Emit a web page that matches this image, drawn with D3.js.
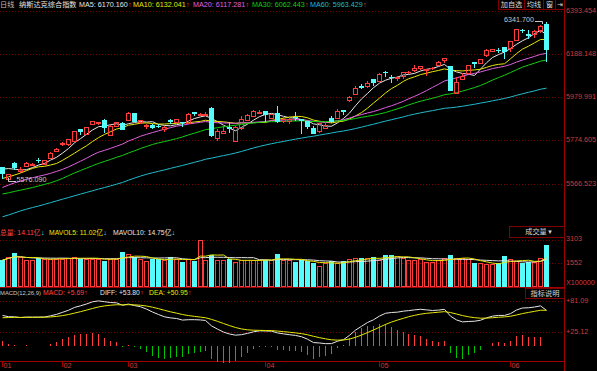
<!DOCTYPE html>
<html>
<head>
<meta charset="utf-8">
<script src="https://cdn.jsdelivr.net/npm/d3@7"></script>
<style>
html, body { margin: 0; padding: 0; background: #000; }
svg { display: block; font-family: "Liberation Sans", "Noto Sans CJK SC", sans-serif; }
</style>
</head>
<body>
<script>
// NASDAQ composite daily, 2017-01-30 .. 2017-06-09
var opens = [5646,5591,5668,5630,5652,5658,5681,5664,5691,5726,5757,5758,5772,5829,5805,5853,5857,5873,5802,5843,5858,
  5874,5904,5863,5842,5846,5845,5830,5872,5863,5860,5857,5911,5894,5897,5929,5784,5811,5840,5772,5833,5871,5893,5905,
  5913,5883,5904,5868,5865,5884,5875,5866,5834,5818,5835,5881,5880,5919,5967,5996,6032,6036,6068,
  6060,6100,6078,6072,6080,6101,6112,6118,6110,6118,6133,6160,6128,6001,6067,6094,6149,6142,6180,6202,6206,6220,
  6214,6256,6302,6280,6282,6300,6331];
var highs = [5650,5616,5670,5648,5670,5669,5690,5683,5719,5738,5766,5783,5821,5830,5839,5867,5864,5877,5846,5862,5860,
  5911,5905,5873,5852,5853,5855,5841,5876,5877,5864,5905,5912,5907,5910,5932,5827,5848,5864,5844,5889,5900,5918,5921,
  5917,5900,5941,5892,5891,5909,5876,5868,5845,5857,5860,5893,5925,5922,5988,6032,6044,6056,6069,
  6095,6104,6087,6082,6101,6108,6133,6130,6117,6124,6154,6170,6130,6076,6094,6136,6150,6163.5,6209,6211,6214,6221,
  6247,6306,6308,6299,6301,6324,6341.7];
var lows = [5590,5576.09,5631,5619,5650,5652,5669,5660,5688,5720,5750,5749,5770,5802,5802,5850,5847,5812,5801,5840,5824,
  5872,5860,5853,5830,5828,5832,5813,5852,5857,5840,5851,5893,5890,5890,5789,5773,5810,5812,5769,5826,5868,5892,5904,
  5862,5876,5859,5858,5854,5867,5807,5831,5805,5810,5830,5858,5875,5896,5960,5994,6020,6023,6036,
  6059,6078,6050,6057,6067,6091,6103,6110,6080,6112,6130,6145,6011,5996,6062,6090,6122,6137,6171,6195,6193,6164,
  6194,6252,6287,6258,6265,6289,6148];
var closes = [5613.71,5614.79,
  5642.65,5636.20,5666.77,5663.55,5674.22,5682.45,5715.18,5734.13,5763.96,5782.57,5819.44,5814.90,5838.58,5865.95,5860.63,5835.51,5845.31,5861.90,5825.44,
  5904.03,5861.22,5870.75,5849.18,5833.93,5837.55,5838.81,5861.73,5875.78,5856.82,5900.05,5900.76,5901.00,5901.53,5793.83,5821.64,5817.69,5828.74,5840.37,5875.14,5897.55,5914.34,5911.74,
  5894.68,5898.61,5864.48,5878.95,5877.81,5880.93,5866.77,5836.16,5805.15,5856.79,5849.47,5863.03,5916.78,5910.52,5983.82,6025.49,6025.23,6048.94,6047.61,
  6091.60,6095.37,6072.55,6075.34,6100.76,6102.66,6120.59,6129.14,6115.96,6121.23,6149.67,6169.87,6011.24,6055.13,6083.70,6133.62,6138.71,6163.02,6205.26,6210.19,6203.19,6198.52,
  6246.83,6305.80,6295.68,6275.06,6297.38,6321.76,6207.92];
// volume, millions of shares
var volumes = [1760,1970,2190,1970,1760,1760,1870,1840,1840,1840,
  1840,1890,1990,1840,1840,1860,1840,1700,1840,1840,
  2280,2130,1970,1840,1730,1800,1800,1760,1950,1800,
  1650,1840,1710,3100,1760,2080,1760,1760,1800,1630,
  1760,1760,1760,1760,1760,1760,2150,1760,1760,1610,
  1760,1670,1580,1370,1580,1670,1580,1670,1800,1890,
  1870,1870,1970,1760,2080,2080,2020,1910,1760,1760,
  1800,1650,1650,1740,1865,2080,1865,1865,1800,1540,
  1540,1475,1475,1540,2015,1800,1690,1580,1650,1650,
  1865,2775];
// closes before the window (2016-11-01 .. 2017-01-27), needed by the averages
var priorCloses = [5153.58,5105.57,5058.41,5046.37,5166.17,5193.49,5251.07,5208.80,5237.11,5218.40,5275.62,5294.58,5333.97,
  5321.51,5368.86,5386.35,5380.68,5398.92,5368.81,5379.92,5323.68,
  5251.11,5255.65,5308.89,5333.00,5393.76,5417.36,5444.50,5412.54,5463.83,5436.67,5456.85,5437.16,5457.44,5483.94,
  5471.43,5447.42,5462.69,5487.44,5438.56,5432.09,5383.12,
  5429.08,5477.00,5487.94,5521.06,5531.82,5551.82,5563.65,5547.49,5574.12,5538.73,5555.65,5540.08,5555.33,5552.94,
  5600.96,5656.34,5655.18,5660.78];

var priceTicks = [6393.454, 6188.148, 5979.991, 5774.605, 5566.523];
var volTicks = [3103, 1552];
var macdTicks = [81.09, 25.12];
var monthIdx = [0, 10, 21, 44, 63, 85];
var monthLabels = ['01', '02', '03', '04', '05', '06'];
var maPeriods = [5, 10, 20, 30, 60];
var maLegend = ['6170.160', '6132.041', '6117.281', '6062.443', '5963.429'];

var W = 597, H = 371, RIGHT = 564;
var RED = '#ff3c3c', CYAN = '#54fcfc', GREEN = '#00c400', GRID = '#7a0000', AXIS = '#d23c3c';
var maColors = ['#e6e6e6', '#e8e800', '#e060e0', '#10d010', '#20bccc'];

var svg = d3.select('body').append('svg').attr('width', W).attr('height', H).style('background', '#000');

var n = closes.length;
var x = d3.scaleBand().domain(d3.range(n)).range([0, 549.3]);
function xl(i) { return Math.round(x(i) + x.bandwidth() / 2 - 2.5); }
var yP = d3.scaleLinear().domain([5566.523, 6393.454]).range([184, 10.7]);
var yV = d3.scaleLinear().domain([0, 3103]).range([287, 239.5]);
var yM = d3.scaleLinear().domain([0, 81.09]).range([346, 301]);

// indicators
var all = priorCloses.concat(closes), off = priorCloses.length;
function ma(p) {
  return closes.map(function (c, i) { var k = i + off; return d3.mean(all.slice(k - p + 1, k + 1)); });
}
var maSeries = maPeriods.map(ma);
var e12 = [], e26 = [], diffA = [], deaA = [];
all.forEach(function (c, i) {
  e12.push(i ? (2 * c + 11 * e12[i - 1]) / 13 : c);
  e26.push(i ? (2 * c + 25 * e26[i - 1]) / 27 : c);
  diffA.push(e12[i] - e26[i]);
  deaA.push(i ? (2 * diffA[i] + 8 * deaA[i - 1]) / 10 : diffA[i]);
});
var diff = diffA.slice(off), dea = deaA.slice(off);
var macd = diff.map(function (d, i) { return 2 * (d - dea[i]); });
function vma(p) {
  return volumes.map(function (v, i) { return d3.mean(volumes.slice(Math.max(0, i - p + 1), i + 1)); });
}
var vma5 = vma(5), vma10 = vma(10);

// grid
var g = svg.append('g').attr('shape-rendering', 'crispEdges');
function dotted(y) {
  g.append('line').attr('x1', 0).attr('x2', RIGHT).attr('y1', Math.round(y) + 0.5).attr('y2', Math.round(y) + 0.5)
    .attr('stroke', GRID).attr('stroke-dasharray', '1,2');
}
priceTicks.forEach(function (t) { dotted(yP(t)); });
volTicks.forEach(function (t) { dotted(yV(t)); });
macdTicks.forEach(function (t) { dotted(yM(t)); });
g.append('line').attr('x1', 0).attr('x2', RIGHT).attr('y1', 287.5).attr('y2', 287.5).attr('stroke', '#a00000');
g.append('line').attr('x1', 0).attr('x2', RIGHT).attr('y1', 361.5).attr('y2', 361.5).attr('stroke', '#a00000');
g.append('line').attr('x1', RIGHT + 0.5).attr('x2', RIGHT + 0.5).attr('y1', 0).attr('y2', H).attr('stroke', '#a00000');

// right axis labels
var ax = svg.append('g').attr('font-size', 7.2).attr('fill', AXIS).attr('dominant-baseline', 'middle');
priceTicks.forEach(function (t) { ax.append('text').attr('x', 566).attr('y', yP(t)).text(t.toFixed(3)); });
volTicks.forEach(function (t) { ax.append('text').attr('x', 566).attr('y', yV(t)).text(t); });
ax.append('text').attr('x', 566).attr('y', 283.5).text('X100000');
macdTicks.forEach(function (t) { ax.append('text').attr('x', 566).attr('y', yM(t)).text('+' + t.toFixed(2)); });

// month axis
monthIdx.forEach(function (i, k) {
  var xx = xl(i) + 2.5;
  g.append('line').attr('x1', xx).attr('x2', xx).attr('y1', 362).attr('y2', 367).attr('stroke', '#a00000');
  ax.append('text').attr('x', xx + 1).attr('y', 366.5).text(monthLabels[k]);
});

// moving averages
var line = d3.line().x(function (d, i) { return xl(i) + 2.5; });
var mg = svg.append('g').attr('fill', 'none').attr('stroke-width', 1);
maSeries.forEach(function (s, k) {
  mg.append('path').attr('d', line.y(function (d) { return yP(d); })(s)).attr('stroke', maColors[k]);
});

// candles
var cg = svg.append('g').attr('shape-rendering', 'crispEdges');
closes.forEach(function (c, i) {
  var o = opens[i], up = c >= o, L = xl(i), wx = L + 2.5;
  var top = Math.round(yP(Math.max(o, c))), bot = Math.round(yP(Math.min(o, c)));
  var hy = Math.round(yP(highs[i])), ly = Math.round(yP(lows[i]));
  if (up) {
    cg.append('line').attr('x1', wx).attr('x2', wx).attr('y1', hy).attr('y2', top).attr('stroke', RED);
    cg.append('line').attr('x1', wx).attr('x2', wx).attr('y1', bot + 1).attr('y2', ly).attr('stroke', RED);
    if (bot - top < 1) {
      cg.append('line').attr('x1', L).attr('x2', L + 5).attr('y1', top + 0.5).attr('y2', top + 0.5).attr('stroke', RED);
    } else {
      cg.append('rect').attr('x', L + 0.5).attr('y', top + 0.5).attr('width', 4).attr('height', bot - top)
        .attr('fill', 'none').attr('stroke', RED);
    }
  } else {
    cg.append('line').attr('x1', wx).attr('x2', wx).attr('y1', hy).attr('y2', ly).attr('stroke', CYAN);
    cg.append('rect').attr('x', L).attr('y', top).attr('width', 5).attr('height', Math.max(1, bot - top)).attr('fill', CYAN);
  }
});

// high / low markers
var im = n - 1, il = 1;
var hyM = yP(highs[im]);
svg.append('path').attr('d', 'M' + (xl(im) - 9) + ',' + (Math.round(hyM) - 0.5) + 'H' + (xl(im) - 1.5) + 'V' + (Math.round(hyM) + 2))
  .attr('fill', 'none').attr('stroke', '#c8c8c8');
svg.append('text').attr('x', xl(im) - 40).attr('y', hyM - 1).attr('font-size', 7.2).attr('fill', '#c8c8c8')
  .attr('dominant-baseline', 'middle').text(highs[im].toFixed(3));
var lyM = yP(lows[il]);
svg.append('path').attr('d', 'M' + (xl(il) + 2.5) + ',' + (Math.round(lyM) - 4) + 'V' + (Math.round(lyM) - 0.5) + 'H' + (xl(il) + 10))
  .attr('fill', 'none').attr('stroke', '#c8c8c8');
svg.append('text').attr('x', xl(il) + 10.5).attr('y', lyM - 1.5).attr('font-size', 7.2).attr('fill', '#c8c8c8')
  .attr('dominant-baseline', 'middle').text(lows[il].toFixed(3));

// volume bars
var vg = svg.append('g').attr('shape-rendering', 'crispEdges');
volumes.forEach(function (v, i) {
  var up = closes[i] >= opens[i], L = xl(i), top = Math.round(yV(v));
  if (up) {
    vg.append('rect').attr('x', L + 0.5).attr('y', top + 0.5).attr('width', 4).attr('height', 287 - top - 1)
      .attr('fill', 'none').attr('stroke', RED);
  } else {
    vg.append('rect').attr('x', L).attr('y', top).attr('width', 5).attr('height', 287 - top).attr('fill', CYAN);
  }
});
svg.append('path').attr('d', line.y(function (d) { return yV(d); })(vma10)).attr('fill', 'none').attr('stroke', '#e6e6e6');
svg.append('path').attr('d', line.y(function (d) { return yV(d); })(vma5)).attr('fill', 'none').attr('stroke', '#e8e800');

// macd histogram and lines
var hg = svg.append('g').attr('shape-rendering', 'crispEdges');
macd.forEach(function (m, i) {
  var xx = xl(i) + 2.5;
  hg.append('line').attr('x1', xx).attr('x2', xx).attr('y1', Math.round(yM(0))).attr('y2', Math.round(yM(m)))
    .attr('stroke', m >= 0 ? RED : GREEN);
});
svg.append('path').attr('d', line.y(function (d) { return yM(d); })(diff)).attr('fill', 'none').attr('stroke', '#e6e6e6');
svg.append('path').attr('d', line.y(function (d) { return yM(d); })(dea)).attr('fill', 'none').attr('stroke', '#e8e800');

// headers: text, then its arrow placed right after the measured text
var hd = svg.append('g').attr('dominant-baseline', 'middle');
function label(xp, yp, str, color, size, arrow, arrowColor) {
  var t = hd.append('text').attr('x', xp).attr('y', yp).attr('fill', color).attr('font-size', size).text(str);
  if (arrow) {
    var w = t.node().getComputedTextLength();
    hd.append('text').attr('x', xp + w + 0.3).attr('y', yp).attr('fill', arrowColor).attr('font-size', size).text(arrow);
  }
}
label(0, 4.8, '日线', '#bdbdbd', 7.2);
label(19, 4.8, '纳斯达克综合指数', '#e6e6e6', 7.2);
var maX = [79, 133, 193, 252, 310];
maPeriods.forEach(function (p, k) {
  label(maX[k], 4.8, 'MA' + p + ': ' + maLegend[k], maColors[k], 7.2, '↑', RED);
});
label(0, 233, '总量: 14.11亿', '#ff4646', 6.8, '↓', CYAN);
label(49, 233, 'MAVOL5: 11.02亿', '#e8e800', 6.8, '↓', CYAN);
label(113, 233, 'MAVOL10: 14.75亿', '#e6e6e6', 6.8, '↓', CYAN);
label(0, 293.5, 'MACD(12,26,9)', '#c8c8c8', 5.9);
label(43, 293.5, 'MACD: +5.69', '#ff4646', 6.8, '↑', RED);
label(100, 293.5, 'DIFF: +53.80', '#e6e6e6', 6.8, '↑', RED);
label(149, 293.5, 'DEA: +50.95', '#e8e800', 6.8, '↑', RED);

// buttons
var bt = svg.append('g').attr('font-size', 7.2).attr('dominant-baseline', 'middle').attr('text-anchor', 'middle');
var btns = [[498.5, 524.5, '加自选'], [524.5, 543.5, '均线'], [543.5, 555.5, '窗'], [555.5, 564.5, '⇥']];
btns.forEach(function (b) {
  bt.append('rect').attr('x', b[0]).attr('y', -0.5).attr('width', b[1] - b[0]).attr('height', 10)
    .attr('fill', '#000').attr('stroke', '#800000').attr('shape-rendering', 'crispEdges');
  bt.append('text').attr('x', (b[0] + b[1]) / 2).attr('y', 5).attr('fill', '#d8d8d8').text(b[2]);
});
bt.append('rect').attr('x', 509.5).attr('y', 226.5).attr('width', 55).attr('height', 11)
  .attr('fill', '#000').attr('stroke', '#800000').attr('shape-rendering', 'crispEdges');
bt.append('text').attr('x', 536).attr('y', 232.5).attr('fill', '#d8d8d8').text('成交量');
bt.append('text').attr('x', 550).attr('y', 232).attr('fill', '#d8d8d8').attr('font-size', 6).text('▼');
bt.append('rect').attr('x', 525.5).attr('y', 288.5).attr('width', 39).attr('height', 10)
  .attr('fill', '#000').attr('stroke', '#800000').attr('shape-rendering', 'crispEdges');
bt.append('text').attr('x', 545).attr('y', 293.8).attr('fill', '#d8d8d8').text('指标说明');
</script>
</body>
</html>
